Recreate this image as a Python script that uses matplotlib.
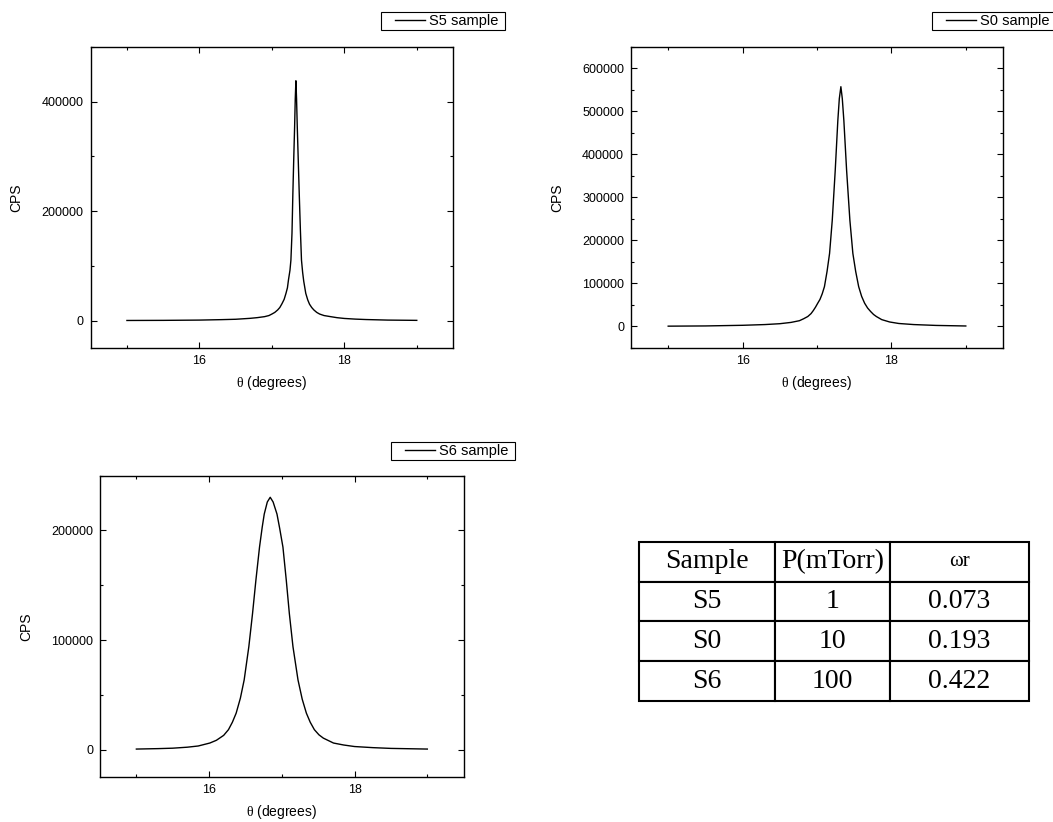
import matplotlib
matplotlib.use("Agg")
import matplotlib.pyplot as plt
from matplotlib.legend_handler import HandlerLine2D
from matplotlib.lines import Line2D
from matplotlib.ticker import MultipleLocator

# rocking curves
s5_theta = [15.0, 15.5, 16.0, 16.3, 16.5, 16.7, 16.8, 16.9, 16.96, 17.0, 17.04, 17.08, 17.11,
            17.14, 17.17, 17.195, 17.215, 17.23, 17.25, 17.263, 17.278, 17.29, 17.303, 17.314,
            17.323, 17.332, 17.341, 17.351, 17.364, 17.378, 17.394, 17.409, 17.425, 17.44,
            17.468, 17.495, 17.52, 17.55, 17.58, 17.62, 17.66, 17.72, 17.81, 17.9, 18.0,
            18.15, 18.3, 18.6, 19.0]
s5_cps = [300, 500, 1000, 1800, 2500, 4200, 5500, 7300, 9300, 12000, 15000, 19500, 24000,
          31000, 39000, 49900, 60000, 75000, 92000, 110500, 160000, 232000, 300000, 353300,
          405000, 438300, 405000, 353300, 295000, 232000, 165000, 110500, 88000, 72000,
          49900, 38000, 30000, 24000, 19500, 15000, 12000, 9300, 7300, 5400, 4000,
          2800, 2000, 1000, 500]

s0_theta = [15.0, 15.5, 16.0, 16.3, 16.5, 16.65, 16.764, 16.82, 16.876, 16.92, 16.95, 16.98,
            17.01, 17.04, 17.07, 17.10, 17.135, 17.169, 17.205, 17.245, 17.28, 17.30, 17.321,
            17.34, 17.361, 17.398, 17.442, 17.482, 17.52, 17.56, 17.60, 17.64, 17.68, 17.72,
            17.76, 17.798, 17.87, 17.977, 18.1, 18.3, 18.6, 19.0]
s0_cps = [800, 1300, 2800, 4500, 6500, 9500, 13500, 18000, 23200, 30000, 37000, 45000,
          54200, 63000, 76000, 92700, 128000, 170000, 247000, 363000, 479000, 530000, 557700,
          530000, 479000, 363000, 247000, 170000, 128000, 92700, 70000, 54200, 43000, 35000,
          28000, 23200, 16000, 10500, 7000, 4500, 2500, 1200]

s6_theta = [15.0, 15.3, 15.5, 15.7, 15.85, 16.01, 16.1, 16.2, 16.266, 16.32, 16.372, 16.43,
            16.482, 16.546, 16.597, 16.643, 16.693, 16.73, 16.758, 16.80, 16.84, 16.88, 16.933,
            16.97, 17.015, 17.061, 17.103, 17.153, 17.222, 17.28, 17.337, 17.39, 17.447, 17.51,
            17.57, 17.71, 17.85, 18.0, 18.25, 18.5, 19.0]
s6_cps = [500, 900, 1300, 2200, 3300, 6000, 8500, 13000, 18200, 25000, 33300, 47000,
          63600, 93900, 124200, 154500, 184800, 203000, 215000, 226000, 230300, 226000, 215000,
          202000, 184800, 154500, 124200, 93900, 63600, 46000, 33300, 25000, 18200, 13500,
          10500, 6000, 4200, 2800, 1800, 1100, 500]

table_header = ["Sample", "P(mTorr)", "\u03c9r"]
table_rows = [["S5", "1", "0.073"], ["S0", "10", "0.193"], ["S6", "100", "0.422"]]

plt.rcParams["font.family"] = ["Liberation Sans", "DejaVu Sans"]
plt.rcParams["mathtext.fontset"] = "custom"
plt.rcParams["mathtext.rm"] = "Liberation Serif"

W, H = 1053, 822
fig = plt.figure(figsize=(W / 100, H / 100), dpi=100)


def px_axes(left, top, right, bottom):
    return fig.add_axes([left / W, 1 - bottom / H, (right - left) / W, (bottom - top) / H])


def style_panel(ax, theta, cps, label, ylim, ymajor, legend_right, legend_top):
    ax.plot(theta, cps, color="black", lw=1.0, label=label + " ")
    ax.set_xlim(14.5, 19.5)
    ax.set_ylim(*ylim)
    ax.xaxis.set_major_locator(MultipleLocator(2))
    ax.xaxis.set_minor_locator(MultipleLocator(1))
    ax.yaxis.set_major_locator(MultipleLocator(ymajor))
    ax.yaxis.set_minor_locator(MultipleLocator(ymajor / 2))
    ax.tick_params(which="both", direction="in", top=True, right=True, width=0.8,
                   labelsize=9, pad=5)
    ax.tick_params(which="major", length=4)
    ax.tick_params(which="minor", length=2.2)
    for s in ax.spines.values():
        s.set_linewidth(1.0)
    ax.set_xlabel(r"$\mathrm{\theta}$ (degrees)", fontsize=10, labelpad=5)
    ax.set_ylabel("CPS", fontsize=10, labelpad=13)
    leg = ax.legend(loc="upper right", bbox_to_anchor=(legend_right / W, 1 - legend_top / H),
                    bbox_transform=fig.transFigure, fancybox=False, framealpha=1,
                    edgecolor="black", fontsize=10.5, handlelength=2.9, handletextpad=0.27,
                    borderpad=0.15, borderaxespad=0,
                    handler_map={Line2D: HandlerLine2D(xpad=0.85)})
    leg.get_frame().set_linewidth(0.8)


ax1 = px_axes(90.7, 47, 453, 348)
style_panel(ax1, s5_theta, s5_cps, "S5 sample", (-50000, 500000), 200000, 505, 12)

ax2 = px_axes(631, 47, 1003, 348)
style_panel(ax2, s0_theta, s0_cps, "S0 sample", (-50000, 650000), 100000, 1056, 12)

ax3 = px_axes(100, 475.7, 463.7, 777)
style_panel(ax3, s6_theta, s6_cps, "S6 sample", (-25000, 250000), 100000, 515, 441.7)

# parameter table
tax = px_axes(639, 541.7, 1029, 701)
tax.axis("off")
tbl = tax.table(cellText=table_rows, colLabels=table_header, cellLoc="center",
                colWidths=[136 / 390, 115 / 390, 139 / 390], bbox=[0, 0, 1, 1])
tbl.auto_set_font_size(False)
for (r, c), cell in tbl.get_celld().items():
    cell.set_linewidth(1.5)
    cell.set_edgecolor("black")
    txt = cell.get_text()
    txt.set_fontfamily("Liberation Serif")
    txt.set_fontsize(20)
    if r == 0 and c == 2:
        txt.set_fontsize(15)

fig.savefig("out.png", dpi=100)
